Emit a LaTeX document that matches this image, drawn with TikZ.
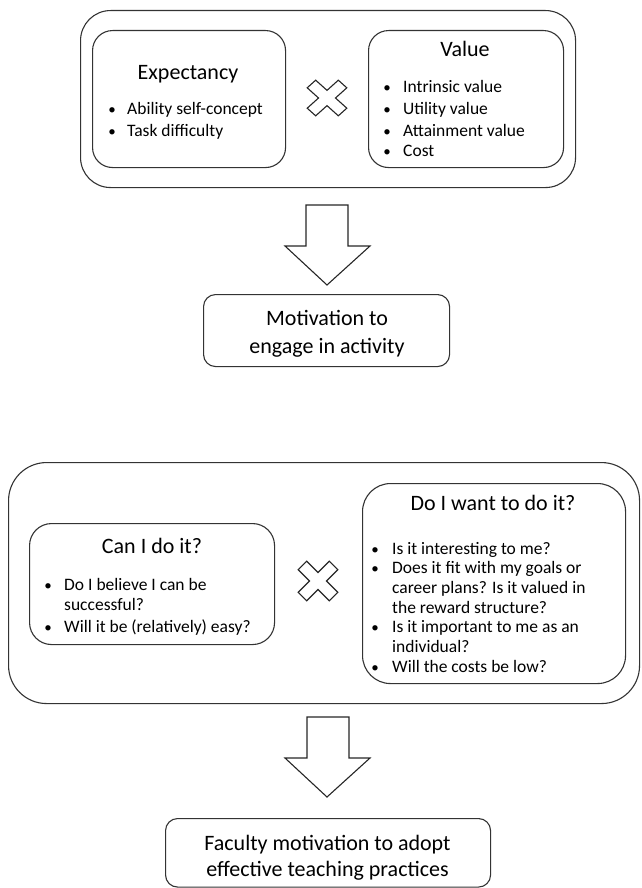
\documentclass[tikz,border=0pt]{standalone}
\usepackage{fontspec}
\setmainfont{Carlito}
\begin{document}
\begin{tikzpicture}[x=1pt,y=-1pt,
  box/.style={draw=black!80, line width=1.1pt, fill=white, inner sep=0pt, anchor=north west},
  blk/.style={draw=black!85, line width=1.1pt, fill=white, line join=miter},
  ttl/.style={font=\fontsize{22}{26}\selectfont, anchor=base, inner sep=0pt, text=black},
  itm/.style={font=\fontsize{17.5}{21}\selectfont, anchor=base west, inner sep=0pt, text=black},
  bul/.style={font=\fontsize{15}{21}\selectfont, anchor=base, inner sep=0pt, text=black},
]
\useasboundingbox (0,0) rectangle (641,888);
\newcommand\crossmark[3]{%
  \draw[blk, shift={(#1,#2)}, #3, rotate=45]
    (6,22) -- (6,6) -- (22,6) -- (22,-6) -- (6,-6) -- (6,-22)
    -- (-6,-22) -- (-6,-6) -- (-22,-6) -- (-22,6) -- (-6,6) -- (-6,22) -- cycle;}

% ---------- top part ----------
\node[box, rounded corners=30pt, minimum width=495pt, minimum height=177pt] (outer1) at (80,10) {};
\node[box, rounded corners=20pt, minimum width=193pt, minimum height=137pt] (exp) at (92,30) {};
\node[box, rounded corners=20pt, minimum width=195pt, minimum height=137pt] (val) at (368,30) {};
\crossmark{327}{98}{yscale=0.9}

\node[ttl] (expt) at (188,80) {Expectancy};
\node[bul] (eb1) at (112,115) {\textbullet};
\node[itm] (e1) at (127,115) {Ability self-concept};
\node[bul] (eb2) at (112,136) {\textbullet};
\node[itm] (e2) at (127,136) {Task difficulty};

\node[ttl] (valt) at (465,57) {Value};
\node[bul] (vb1) at (387,93) {\textbullet};
\node[itm] (v1) at (403,93) {Intrinsic value};
\node[bul] (vb2) at (387,115) {\textbullet};
\node[itm] (v2) at (403,115) {Utility value};
\node[bul] (vb3) at (387,136) {\textbullet};
\node[itm] (v3) at (403,136) {Attainment value};
\node[bul] (vb4) at (387,157) {\textbullet};
\node[itm] (v4) at (403,157) {Cost};

\draw[blk] (306,205) -- (348,205) -- (348,246) -- (370,246) -- (327,285) -- (285,246) -- (306,246) -- cycle;

\node[box, rounded corners=12pt, minimum width=246pt, minimum height=72pt] (mot) at (203,294) {};
\node[ttl] (mot1) at (327,325) {Motivation to};
\node[ttl] (mot2) at (327,353) {engage in activity};

% ---------- bottom part ----------
\node[box, rounded corners=38pt, minimum width=631pt, minimum height=241pt] (outer2) at (8,462) {};
\node[box, rounded corners=22pt, minimum width=245pt, minimum height=121pt] (can) at (29,523) {};
\node[box, rounded corners=28pt, minimum width=263pt, minimum height=200pt] (want) at (362,483) {};
\crossmark{318}{581}{scale=1.0}

\node[ttl] (cant) at (152,553) {Can I do it?};
\node[bul] (cb1) at (48,590) {\textbullet};
\node[itm] (c1) at (64,590) {Do I believe I can be};
\node[itm] (c1b) at (64,610) {successful?};
\node[bul] (cb2) at (48,632) {\textbullet};
\node[itm] (c2) at (64,632) {Will it be (relatively) easy?};

\node[ttl] (wantt) at (493,510) {Do I want to do it?};
\node[bul] (wb1) at (375,554) {\textbullet};
\node[itm] (w1) at (392,554) {Is it interesting to me?};
\node[bul] (wb2) at (375,573.7) {\textbullet};
\node[itm] (w2) at (392,573.7) {Does it fit with my goals or};
\node[itm] (w2b) at (392,593.4) {career plans? Is it valued in};
\node[itm] (w2c) at (392,613.1) {the reward structure?};
\node[bul] (wb3) at (375,632.8) {\textbullet};
\node[itm] (w3) at (392,632.8) {Is it important to me as an};
\node[itm] (w3b) at (392,652.5) {individual?};
\node[bul] (wb4) at (375,672.2) {\textbullet};
\node[itm] (w4) at (392,672.2) {Will the costs be low?};

\draw[blk] (307,717) -- (349,717) -- (349,758) -- (370,758) -- (327,797) -- (285,758) -- (307,758) -- cycle;

\node[box, rounded corners=12pt, minimum width=325pt, minimum height=68.5pt] (fac) at (165,818) {};
\node[ttl] (fac1) at (327.5,850) {Faculty motivation to adopt};
\node[ttl] (fac2) at (327.5,876) {effective teaching practices};
\end{tikzpicture}
\end{document}
